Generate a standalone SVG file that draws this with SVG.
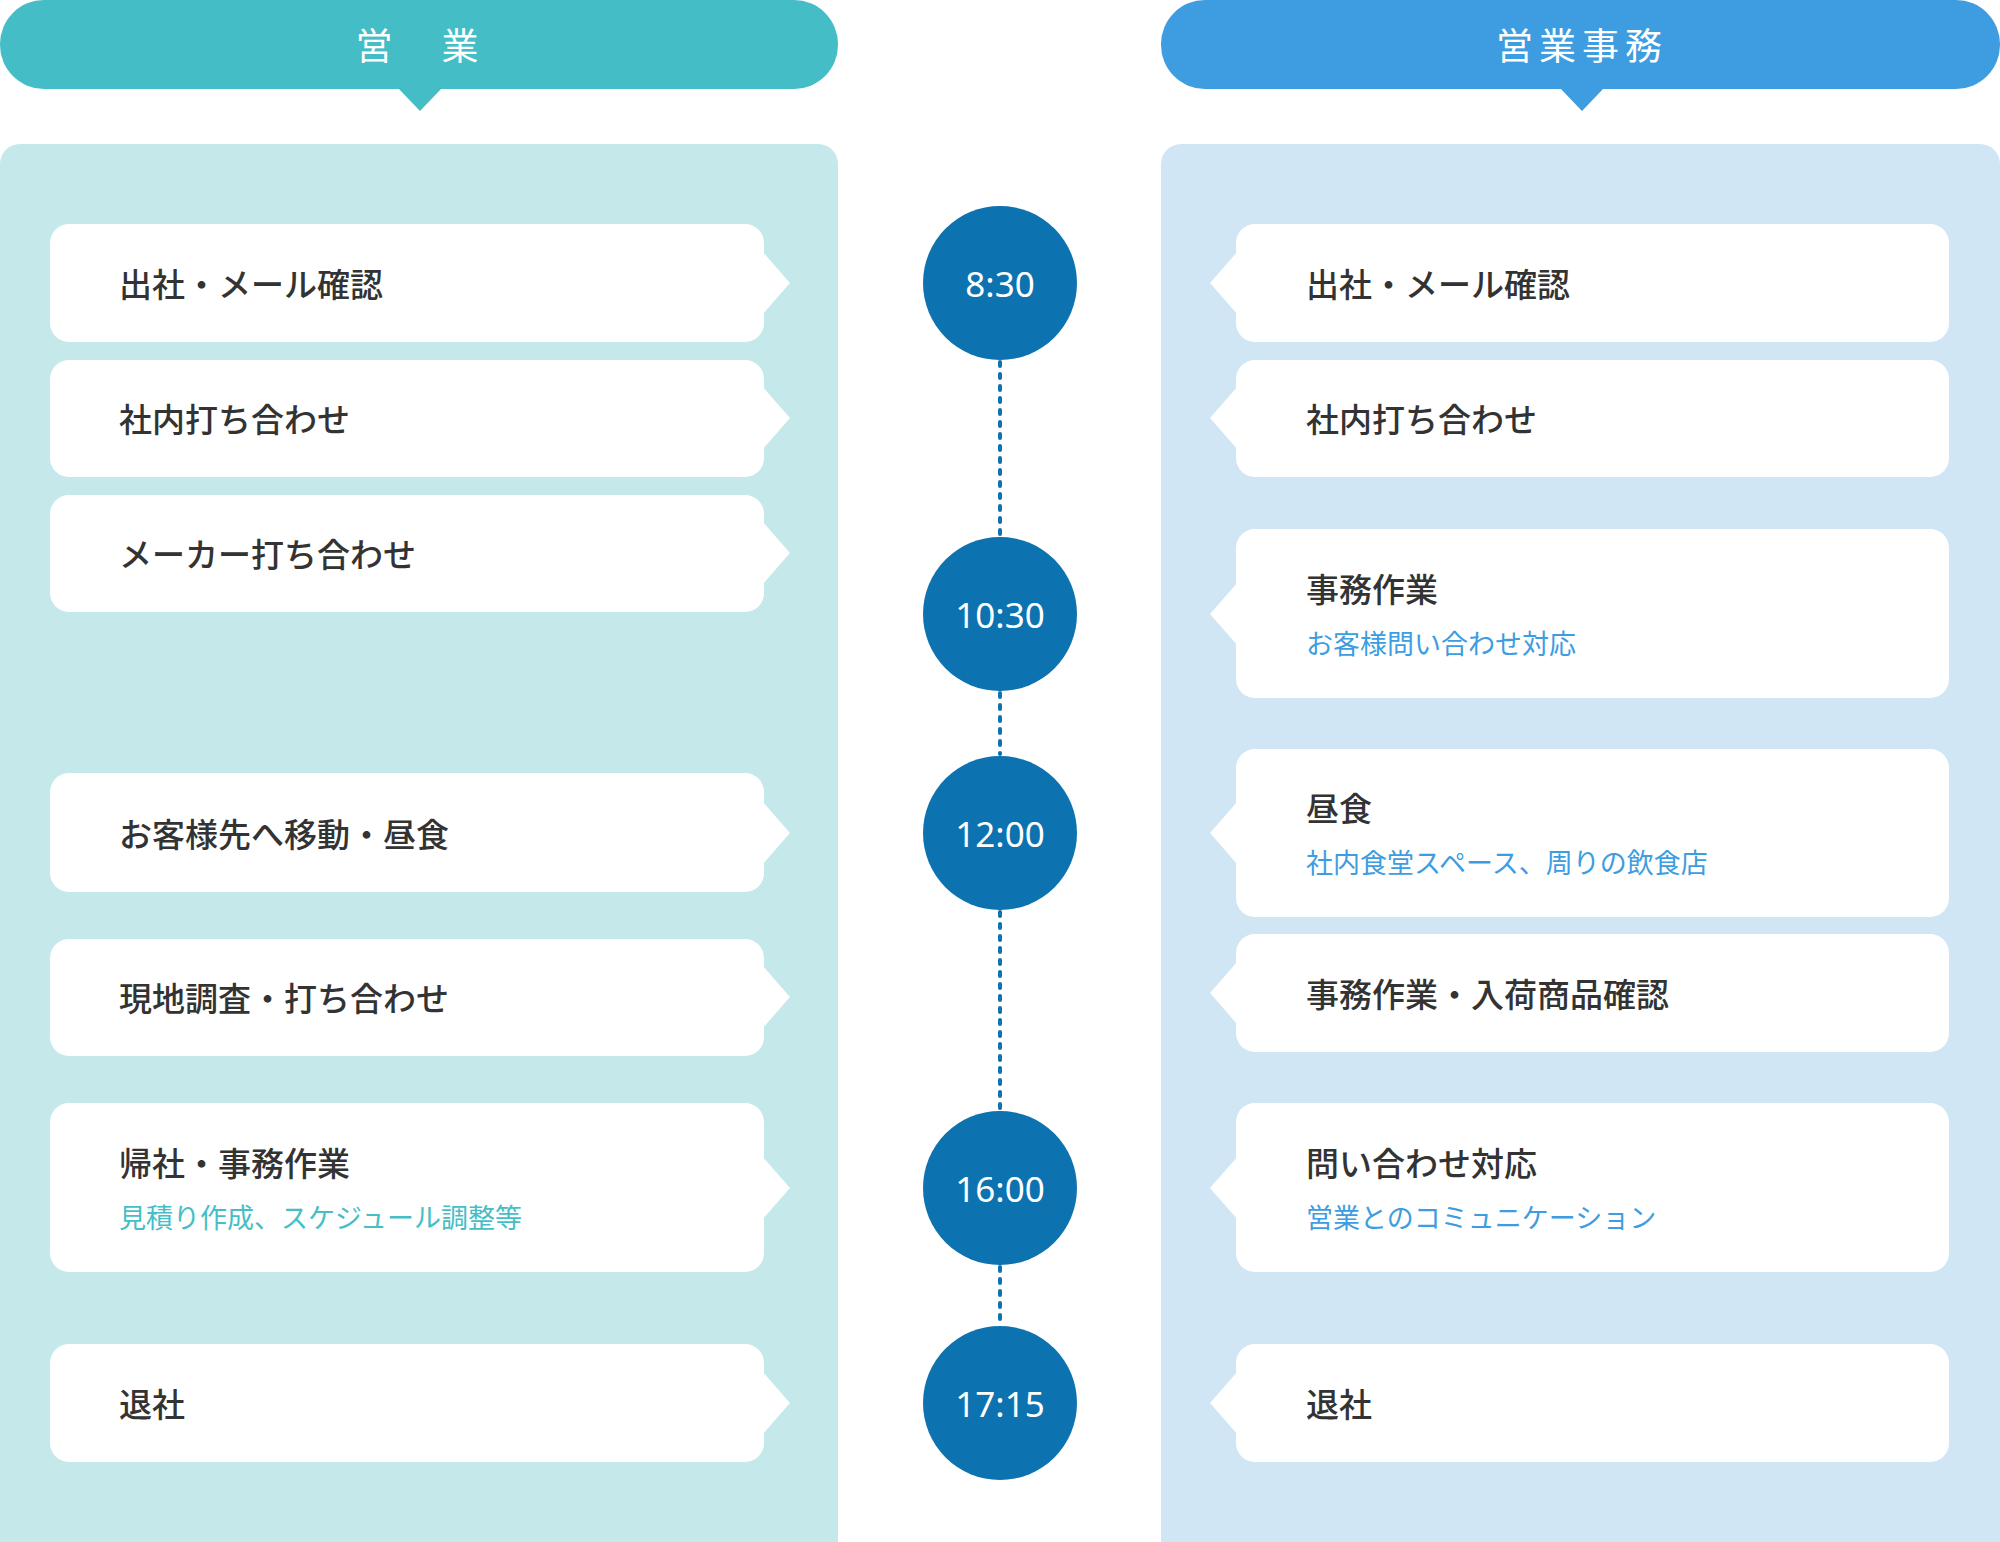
<svg xmlns="http://www.w3.org/2000/svg" width="2000" height="1542" viewBox="0 0 2000 1542">
<style>
.t{font-family:"Noto Sans CJK JP","Noto Sans",sans-serif;font-weight:500;font-size:33px;fill:#333;dominant-baseline:central}
.sl{font-family:"Noto Sans CJK JP",sans-serif;font-size:27px;fill:#45bec6;dominant-baseline:central}
.sr{font-family:"Noto Sans CJK JP",sans-serif;font-size:27px;fill:#3d9de0;dominant-baseline:central}
.h{font-family:"Noto Sans CJK JP",sans-serif;font-size:37px;fill:#fff;text-anchor:middle;dominant-baseline:central;letter-spacing:6px}
.c{font-family:"Noto Sans","Open Sans",sans-serif;font-size:35px;fill:#fff;text-anchor:middle;dominant-baseline:central}
.b{fill:#fff}
</style>
<g id="headers">
<rect x="0" y="0" width="838" height="89" rx="44" fill="#44bdc6"/>
<polygon points="398,88 442,88 420,111" fill="#44bdc6"/>
<text class="h" x="420" y="44">営　業</text>
<rect x="1161" y="0" width="839" height="89" rx="44" fill="#3d9de0"/>
<polygon points="1560,88 1604,88 1582,111" fill="#3d9de0"/>
<text class="h" x="1582" y="44">営業事務</text>
</g>
<g id="panels">
<rect x="0" y="144" width="838" height="1420" rx="20" fill="#c5e8ea"/>
<rect x="1161" y="144" width="839" height="1420" rx="20" fill="#d1e6f4"/>
</g>
<g id="connectors" stroke="#0d72b0" stroke-width="4" stroke-dasharray="4 8" stroke-linecap="round">
<line x1="1000" y1="362" x2="1000" y2="535"/>
<line x1="1000" y1="693" x2="1000" y2="754"/>
<line x1="1000" y1="912" x2="1000" y2="1109"/>
<line x1="1000" y1="1267" x2="1000" y2="1324"/>
</g>
<g id="left">
<g id="l1"><rect class="b" x="50" y="224" width="714" height="118" rx="19"/><polygon class="b" points="762,251 790,283 762,315"/><text class="t" x="119" y="283">出社・メール確認</text></g>
<g id="l2"><rect class="b" x="50" y="360" width="714" height="117" rx="19"/><polygon class="b" points="762,386 790,418 762,450"/><text class="t" x="119" y="418">社内打ち合わせ</text></g>
<g id="l3"><rect class="b" x="50" y="495" width="714" height="117" rx="19"/><polygon class="b" points="762,521 790,553 762,585"/><text class="t" x="119" y="553">メーカー打ち合わせ</text></g>
<g id="l4"><rect class="b" x="50" y="773" width="714" height="119" rx="19"/><polygon class="b" points="762,801 790,833 762,865"/><text class="t" x="119" y="833">お客様先へ移動・昼食</text></g>
<g id="l5"><rect class="b" x="50" y="939" width="714" height="117" rx="19"/><polygon class="b" points="762,965 790,997 762,1029"/><text class="t" x="119" y="997">現地調査・打ち合わせ</text></g>
<g id="l6"><rect class="b" x="50" y="1103" width="714" height="169" rx="19"/><polygon class="b" points="762,1156 790,1188 762,1220"/><text class="t" x="119" y="1162">帰社・事務作業</text><text class="sl" x="119" y="1216">見積り作成、スケジュール調整等</text></g>
<g id="l7"><rect class="b" x="50" y="1344" width="714" height="118" rx="19"/><polygon class="b" points="762,1371 790,1403 762,1435"/><text class="t" x="119" y="1403">退社</text></g>
</g>
<g id="right">
<g id="r1"><rect class="b" x="1236" y="224" width="713" height="118" rx="19"/><polygon class="b" points="1238,251 1210,283 1238,315"/><text class="t" x="1306" y="283">出社・メール確認</text></g>
<g id="r2"><rect class="b" x="1236" y="360" width="713" height="117" rx="19"/><polygon class="b" points="1238,386 1210,418 1238,450"/><text class="t" x="1306" y="418">社内打ち合わせ</text></g>
<g id="r3"><rect class="b" x="1236" y="529" width="713" height="169" rx="19"/><polygon class="b" points="1238,582 1210,614 1238,646"/><text class="t" x="1306" y="588">事務作業</text><text class="sr" x="1306" y="642">お客様問い合わせ対応</text></g>
<g id="r4"><rect class="b" x="1236" y="749" width="713" height="168" rx="19"/><polygon class="b" points="1238,801 1210,833 1238,865"/><text class="t" x="1306" y="807">昼食</text><text class="sr" x="1306" y="861">社内食堂スペース、周りの飲食店</text></g>
<g id="r5"><rect class="b" x="1236" y="934" width="713" height="118" rx="19"/><polygon class="b" points="1238,961 1210,993 1238,1025"/><text class="t" x="1306" y="993">事務作業・入荷商品確認</text></g>
<g id="r6"><rect class="b" x="1236" y="1103" width="713" height="169" rx="19"/><polygon class="b" points="1238,1156 1210,1188 1238,1220"/><text class="t" x="1306" y="1162">問い合わせ対応</text><text class="sr" x="1306" y="1216">営業とのコミュニケーション</text></g>
<g id="r7"><rect class="b" x="1236" y="1344" width="713" height="118" rx="19"/><polygon class="b" points="1238,1371 1210,1403 1238,1435"/><text class="t" x="1306" y="1403">退社</text></g>
</g>
<g id="times" fill="#0d72b0">
<g id="t1"><circle cx="1000" cy="283" r="77"/><text class="c" x="1000" y="283">8:30</text></g>
<g id="t2"><circle cx="1000" cy="614" r="77"/><text class="c" x="1000" y="614">10:30</text></g>
<g id="t3"><circle cx="1000" cy="833" r="77"/><text class="c" x="1000" y="833">12:00</text></g>
<g id="t4"><circle cx="1000" cy="1188" r="77"/><text class="c" x="1000" y="1188">16:00</text></g>
<g id="t5"><circle cx="1000" cy="1403" r="77"/><text class="c" x="1000" y="1403">17:15</text></g>
</g>
</svg>
